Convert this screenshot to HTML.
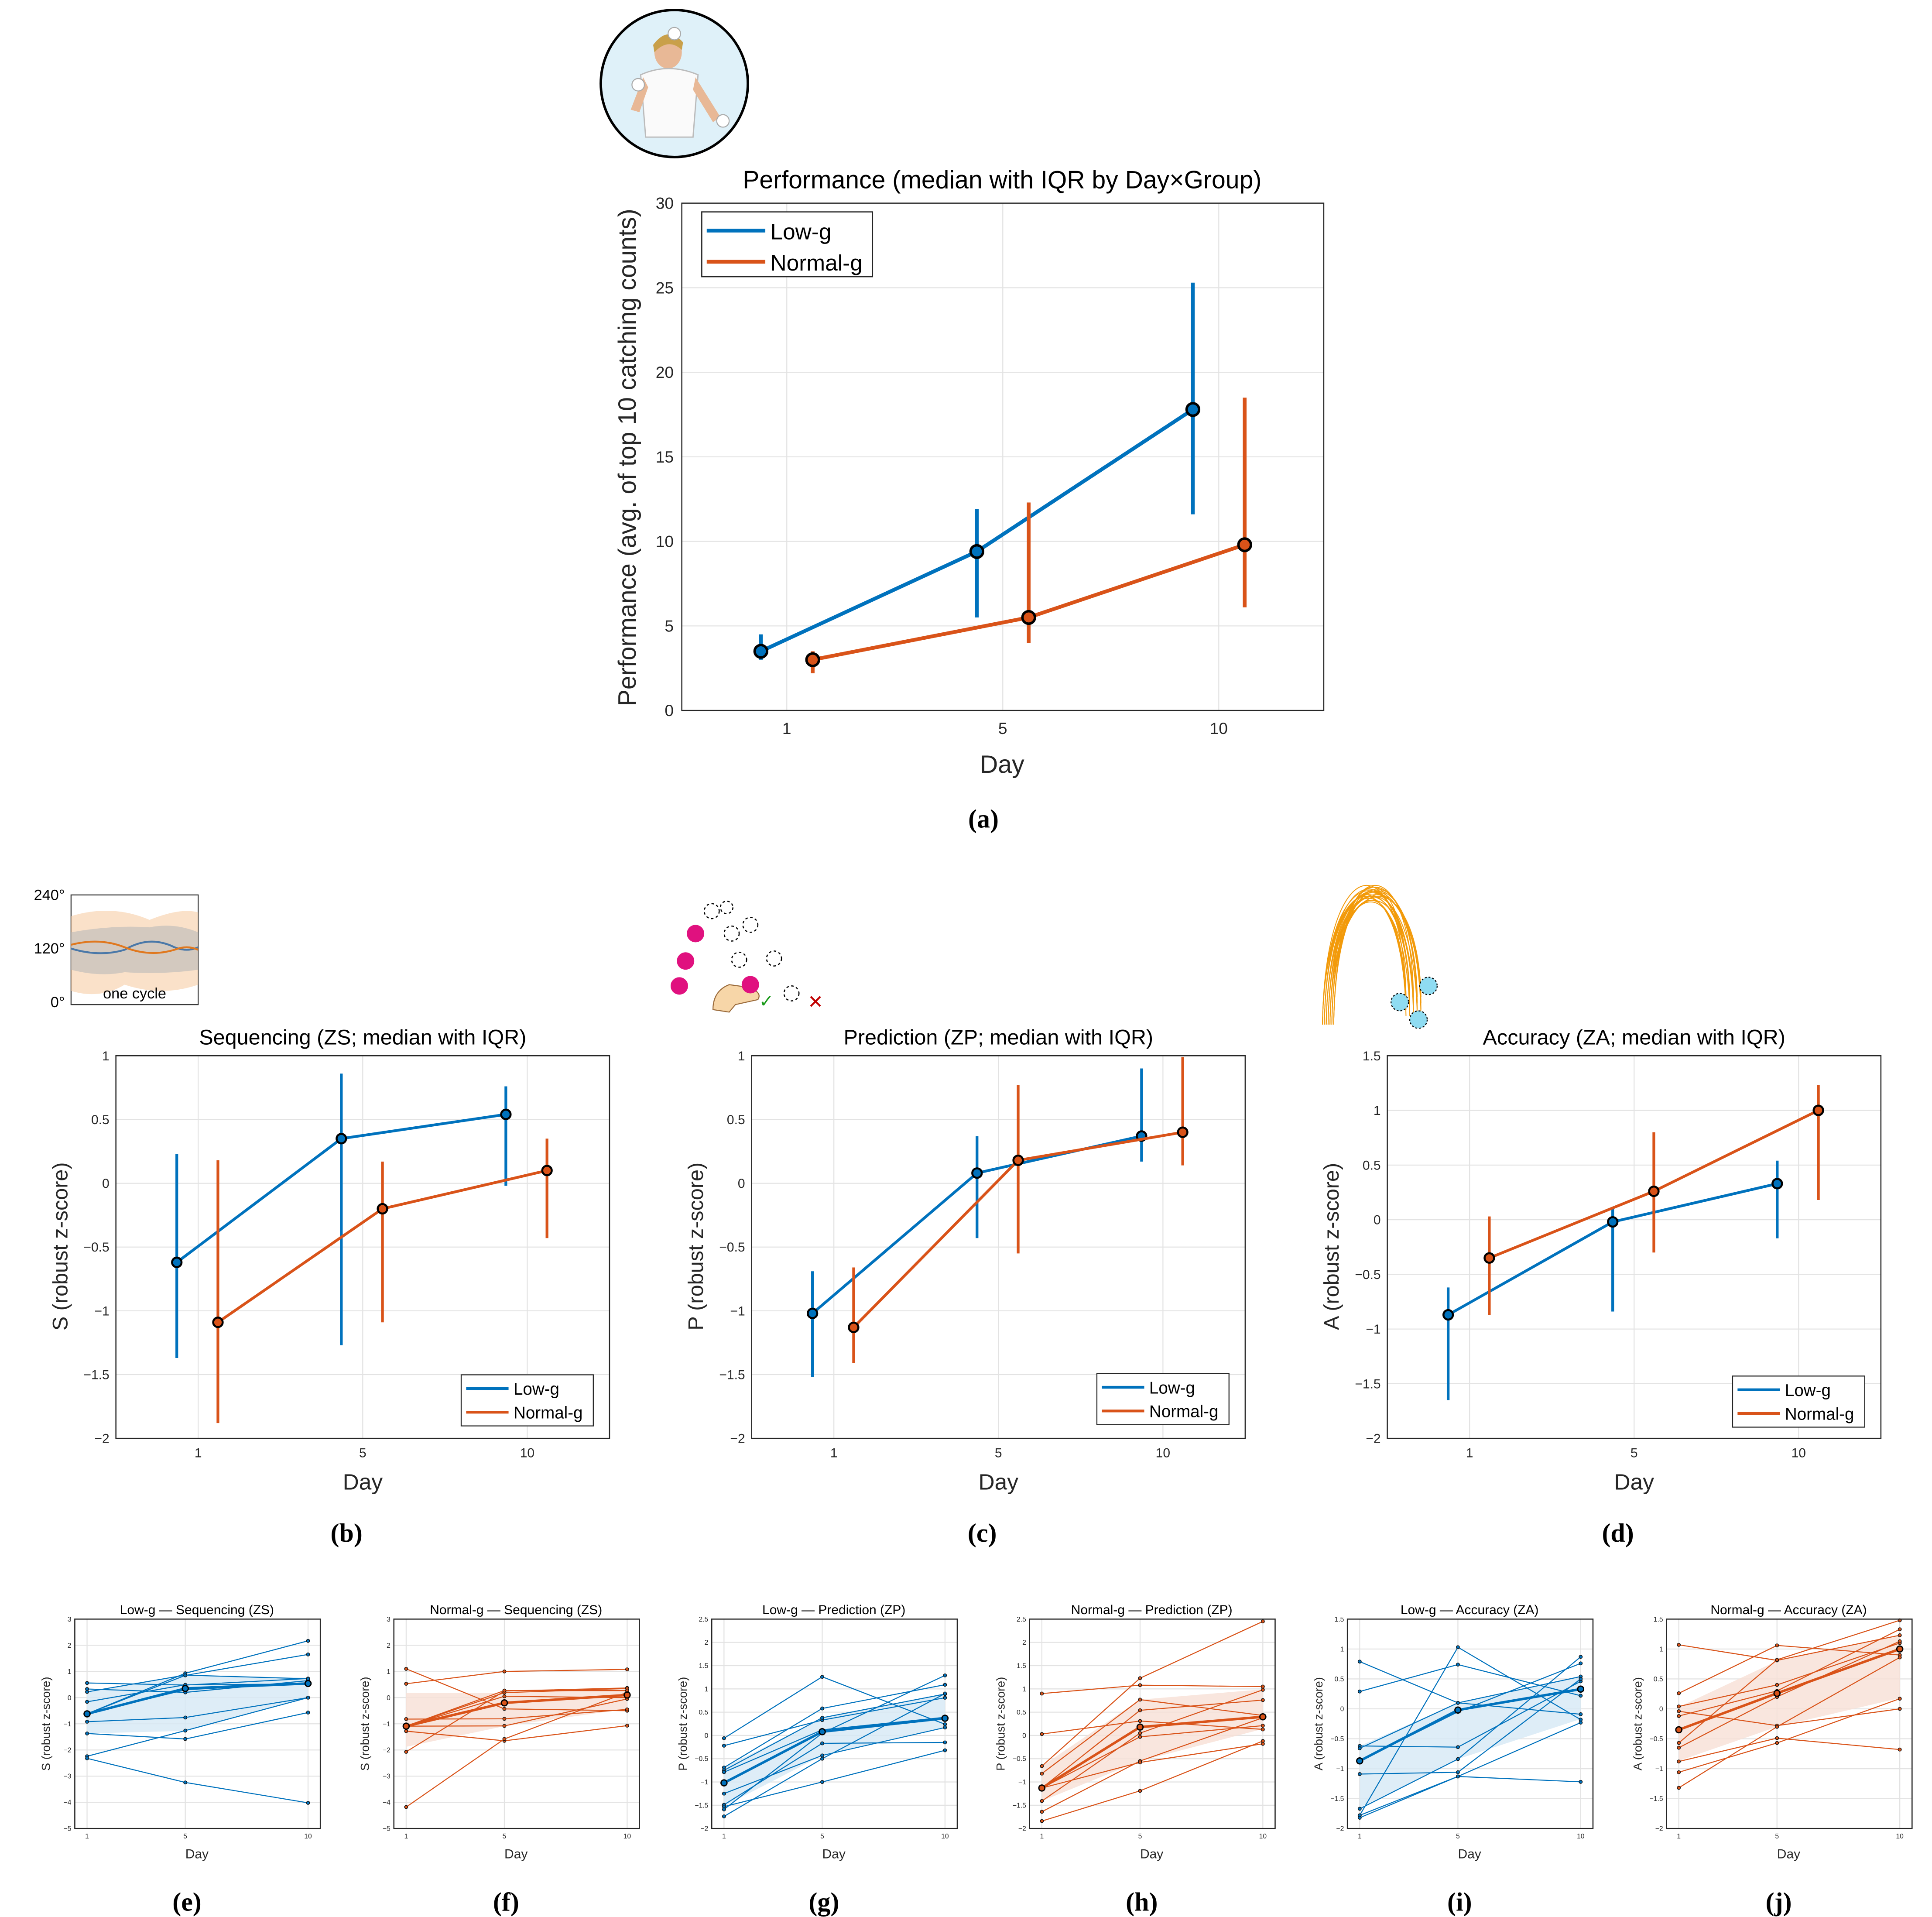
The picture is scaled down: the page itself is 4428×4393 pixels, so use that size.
<!DOCTYPE html>
<html><head><meta charset="utf-8">
<style>
html,body{margin:0;padding:0;background:#fff;}
svg{display:block;font-family:"Liberation Sans",sans-serif;}
</style></head>
<body>
<svg id="fig" xmlns="http://www.w3.org/2000/svg" width="4428" height="4393" viewBox="0 0 1550 1538" preserveAspectRatio="none">
<rect x="0" y="0" width="1550" height="1538" fill="#fff"/>
<!-- juggler icon -->
<g>
<circle cx="541" cy="67" r="59" fill="#dff1f9" stroke="#000" stroke-width="2"/>
<ellipse cx="536" cy="42" rx="11" ry="13" fill="#e8b896"/>
<path d="M524 36 Q536 20 548 34 L547 40 Q536 30 525 42Z" fill="#c9a04a"/>
<path d="M514 60 Q536 50 560 60 L556 110 L518 110Z" fill="#fafafa" stroke="#bbb" stroke-width="1"/>
<path d="M516 62 L506 88 L513 90 L520 70Z" fill="#e8b896"/>
<path d="M558 62 L578 94 L572 98 L556 72Z" fill="#e8b896"/>
<circle cx="541" cy="27" r="5" fill="#fff" stroke="#aaa" stroke-width="0.8"/>
<circle cx="512" cy="68" r="5" fill="#fff" stroke="#aaa" stroke-width="0.8"/>
<circle cx="580" cy="97" r="5" fill="#fff" stroke="#aaa" stroke-width="0.8"/>
</g>
<!-- sequencing inset icon -->
<g>
<rect x="57" y="718" width="102" height="88" fill="#fff" stroke="#333" stroke-width="0.8"/>
<path d="M57 735 Q90 725 120 738 Q145 728 159 732 L159 790 Q130 800 100 790 Q80 802 57 795Z" fill="#f6c99d" opacity="0.55"/>
<path d="M57 748 Q90 742 120 744 Q140 740 159 748 L159 778 Q130 782 100 780 Q80 784 57 778Z" fill="#b9b9b9" opacity="0.6"/>
<path d="M57 761 Q80 768 100 762 Q120 750 140 760 Q150 764 159 760" fill="none" stroke="#4a78a8" stroke-width="1.5"/>
<path d="M57 758 Q80 752 100 760 Q120 768 140 762 Q150 758 159 762" fill="none" stroke="#e0781e" stroke-width="1.5"/>
<text x="52" y="722" font-size="12" text-anchor="end">240°</text>
<text x="52" y="765" font-size="12" text-anchor="end">120°</text>
<text x="52" y="808" font-size="12" text-anchor="end">0°</text>
<text x="108" y="801" font-size="12" text-anchor="middle">one cycle</text>
</g>
<!-- prediction inset icon -->
<g>
<g fill="none" stroke="#000" stroke-dasharray="2,2" stroke-width="0.9">
<circle cx="571" cy="731" r="6"/><circle cx="583" cy="728" r="5"/><circle cx="602" cy="742" r="6"/>
<circle cx="587" cy="749" r="6"/><circle cx="593" cy="770" r="6"/><circle cx="621" cy="769" r="6"/><circle cx="635" cy="797" r="6"/>
</g>
<circle cx="558" cy="749" r="7" fill="#e0117f"/><circle cx="550" cy="771" r="7" fill="#e0117f"/><circle cx="545" cy="791" r="7" fill="#e0117f"/>
<path d="M572 810 Q572 795 585 790 L600 792 Q612 796 608 802 L590 806 L585 812Z" fill="#f7d6a8" stroke="#9a6a3a" stroke-width="0.8"/>
<circle cx="602" cy="790" r="7" fill="#e0117f"/>
<text x="609" y="808" font-size="14" fill="#1a9a1a">✓</text>
<text x="648" y="809" font-size="15" fill="#c00000">✕</text>
</g>
<!-- accuracy inset icon -->
<g id="accIcon"></g>
<g id="root"></g>
</svg>
<script>
// ---------- data ----------
const days = [1, 5, 10];
// (a) Performance
const perfLowMed = [3.5, 9.4, 17.8];
const perfLowQ1 = [3.0, 5.5, 11.6];
const perfLowQ3 = [4.5, 11.9, 25.3];
const perfNorMed = [3.0, 5.5, 9.8];
const perfNorQ1 = [2.2, 4.0, 6.1];
const perfNorQ3 = [3.5, 12.3, 18.5];
// (b) Sequencing
const seqLowMed = [-0.62, 0.35, 0.54];
const seqLowQ1 = [-1.37, -1.27, -0.02];
const seqLowQ3 = [0.23, 0.86, 0.76];
const seqNorMed = [-1.09, -0.20, 0.10];
const seqNorQ1 = [-1.88, -1.09, -0.43];
const seqNorQ3 = [0.18, 0.17, 0.35];
// (c) Prediction
const preLowMed = [-1.02, 0.08, 0.37];
const preLowQ1 = [-1.52, -0.43, 0.17];
const preLowQ3 = [-0.69, 0.37, 0.90];
const preNorMed = [-1.13, 0.18, 0.40];
const preNorQ1 = [-1.41, -0.55, 0.14];
const preNorQ3 = [-0.66, 0.77, 0.99];
// (d) Accuracy
const accLowMed = [-0.87, -0.02, 0.33];
const accLowQ1 = [-1.65, -0.84, -0.17];
const accLowQ3 = [-0.62, 0.10, 0.54];
const accNorMed = [-0.35, 0.26, 1.00];
const accNorQ1 = [-0.87, -0.30, 0.18];
const accNorQ3 = [0.03, 0.80, 1.23];
// (e)-(j) individual subjects
const eLines = [[0.56,0.48,0.73],[0.33,0.20,0.65],[0.22,0.86,0.72],[-0.16,0.49,0.52],[-0.62,0.93,2.17],[-0.62,0.85,1.65],[-0.92,-0.76,0.0],[-1.37,-1.58,-0.57],[-2.24,-1.26,0.0],[-2.32,-3.24,-4.02],[-0.62,0.30,0.55]];
const fLines = [[1.10,-0.43,-0.50],[0.53,1.00,1.08],[-0.82,-0.81,-0.45],[-1.28,-1.65,-1.07],[-2.07,0.25,0.37],[-4.18,-1.58,0.20],[-1.09,0.19,0.35],[-1.09,0.05,0.0],[-1.09,-1.08,-0.05],[-1.09,0.27,0.27]];
const gLines = [[-0.06,1.26,0.24],[-0.22,0.33,0.81],[-0.69,0.58,1.09],[-0.75,0.38,0.89],[-0.79,0.12,0.39],[-1.25,-0.43,0.17],[-1.49,-0.17,-0.15],[-1.53,-1.0,-0.32],[-1.59,0.05,1.29],[-1.74,-0.50,0.90],[-1.02,0.08,0.37]];
const hLines = [[0.90,1.08,1.05],[0.03,0.31,0.13],[-0.66,1.23,2.45],[-0.82,0.77,0.43],[-1.13,0.54,0.76],[-1.41,0.05,0.98],[-1.64,-0.55,0.38],[-1.84,-1.19,-0.12],[-1.13,-0.58,-0.18],[-1.13,-0.03,0.21]];
const iLines = [[0.79,0.10,-0.09],[0.29,0.74,0.22],[-0.62,-0.64,0.46],[-0.66,0.10,0.54],[-1.09,-1.06,0.50],[-1.67,-0.84,0.87],[-1.78,1.03,-0.18],[-1.78,-1.13,-0.23],[-1.82,-1.13,-1.22],[-0.87,-0.05,0.76]];
const jLines = [[1.07,0.81,1.23],[0.26,1.06,0.90],[0.04,0.40,1.10],[-0.04,-0.28,0.0],[-0.12,0.30,1.33],[-0.57,0.82,1.48],[-0.65,0.20,1.13],[-0.88,-0.49,-0.68],[-1.06,-0.57,0.17],[-1.32,-0.30,0.86]];

const BLUE = "#0072BD", ORANGE = "#D95319";
const NS = "http://www.w3.org/2000/svg";
const root = document.getElementById("root");
function mk(tag, attrs, parent) {
  const e = document.createElementNS(NS, tag);
  for (const k in attrs) e.setAttribute(k, attrs[k]);
  (parent || root).appendChild(e);
  return e;
}
function txt(s, attrs, parent) { const t = mk("text", attrs, parent); t.textContent = s; return t; }
function fmt(v) { return (v < 0 ? "\u2212" : "") + Math.abs(v); }

function axes(name, box, xlim, ylim, yticks, xtickPos, xtickLbl, fs) {
  const g = mk("g", {});
  
  
  const sx = v => box.x0 + (v - xlim[0]) / (xlim[1] - xlim[0]) * (box.x1 - box.x0);
  const sy = v => box.y1 - (v - ylim[0]) / (ylim[1] - ylim[0]) * (box.y1 - box.y0);
  mk("rect", {x: box.x0, y: box.y0, width: box.x1 - box.x0, height: box.y1 - box.y0, fill: "#fff"}, g);
  const grid = mk("g", {stroke: "#e3e3e3", "stroke-width": 0.8}, g);
  
  
  yticks.forEach(v => mk("line", {x1: box.x0, x2: box.x1, y1: sy(v), y2: sy(v)}, grid));
  xtickPos.forEach(v => mk("line", {x1: sx(v), x2: sx(v), y1: box.y0, y2: box.y1}, grid));
  const yt = mk("g", {"font-size": fs, fill: "#262626", "text-anchor": "end"}, g);
  
  
  yticks.forEach(v => txt(fmt(v), {x: box.x0 - fs * 0.5, y: sy(v) + fs * 0.35}, yt));
  const xt = mk("g", {"font-size": fs, fill: "#262626", "text-anchor": "middle"}, g);
  
  
  xtickPos.forEach((v, i) => txt(xtickLbl[i], {x: sx(v), y: box.y1 + fs * 1.45}, xt));
  return {g, sx, sy, box};
}
function frame(ax) {
  const b = ax.box;
  mk("rect", {x: b.x0, y: b.y0, width: b.x1 - b.x0, height: b.y1 - b.y0, fill: "none", stroke: "#262626", "stroke-width": 0.9}, ax.g);
}

// ---------- panel (a) ----------
(function () {
  const ax = axes("performance-chart", {x0: 547, x1: 1062, y0: 163, y1: 570}, [0.514, 3.486], [0, 30], [0,5,10,15,20,25,30], [1,2,3], days.map(String), 13);
  const series = [[perfLowMed, perfLowQ1, perfLowQ3, BLUE, -0.12, "low-g"], [perfNorMed, perfNorQ1, perfNorQ3, ORANGE, 0.12, "normal-g"]];
  series.forEach(s => {
    const sg = mk("g", {}, ax.g);
    
    
    s[0].forEach((m, i) => mk("line", {x1: ax.sx(i + 1 + s[4]), x2: ax.sx(i + 1 + s[4]), y1: ax.sy(s[1][i]), y2: ax.sy(s[2][i]), stroke: s[3], "stroke-width": 3}, sg));
    mk("polyline", {points: s[0].map((m, i) => ax.sx(i + 1 + s[4]) + "," + ax.sy(m)).join(" "), fill: "none", stroke: s[3], "stroke-width": 3}, sg);
    s[0].forEach((m, i) => mk("circle", {cx: ax.sx(i + 1 + s[4]), cy: ax.sy(m), r: 5, fill: s[3], stroke: "#000", "stroke-width": 2}, sg));
  });
  frame(ax);
  txt("Performance (median with IQR by Day\u00d7Group)", {x: 804, y: 151, "font-size": 20, "text-anchor": "middle"}, ax.g);
  txt("Performance (avg. of top 10 catching counts)", {x: 0, y: 0, "font-size": 20, "text-anchor": "middle", fill: "#262626", transform: "translate(510,367) rotate(-90)"}, ax.g);
  txt("Day", {x: 804, y: 620, "font-size": 20, "text-anchor": "middle", fill: "#262626"}, ax.g);
  const lg = mk("g", {}, ax.g);
  
  
  mk("rect", {x: 563, y: 170, width: 137, height: 52, fill: "#fff", stroke: "#262626", "stroke-width": 0.9}, lg);
  mk("line", {x1: 567, x2: 614, y1: 185, y2: 185, stroke: BLUE, "stroke-width": 3}, lg);
  mk("line", {x1: 567, x2: 614, y1: 210, y2: 210, stroke: ORANGE, "stroke-width": 3}, lg);
  txt("Low-g", {x: 618, y: 192, "font-size": 18}, lg);
  txt("Normal-g", {x: 618, y: 217, "font-size": 18}, lg);
  txt("(a)", {x: 789, y: 664, "font-size": 21, "text-anchor": "middle", "font-family": "Liberation Serif, serif", "font-weight": "bold"}, ax.g);
})();

// ---------- panels (b)(c)(d) ----------
function midPanel(name, x0, ylim, yticks, title, ylab, low, nor, label, legY) {
  const ax = axes(name, {x0: x0, x1: x0 + 396, y0: 847, y1: 1154}, [0.5, 3.5], ylim, yticks, [1,2,3], days.map(String), 10.5);
  const series = [[low, BLUE, -0.13, "low-g"], [nor, ORANGE, 0.12, "normal-g"]];
  series.forEach(s => {
    const sg = mk("g", {}, ax.g);
    
    
    const [med, q1, q3] = s[0];
    med.forEach((m, i) => mk("line", {x1: ax.sx(i + 1 + s[2]), x2: ax.sx(i + 1 + s[2]), y1: ax.sy(q1[i]), y2: ax.sy(q3[i]), stroke: s[1], "stroke-width": 2.2}, sg));
    mk("polyline", {points: med.map((m, i) => ax.sx(i + 1 + s[2]) + "," + ax.sy(m)).join(" "), fill: "none", stroke: s[1], "stroke-width": 2.2}, sg);
    med.forEach((m, i) => mk("circle", {cx: ax.sx(i + 1 + s[2]), cy: ax.sy(m), r: 3.8, fill: s[1], stroke: "#000", "stroke-width": 1.6}, sg));
  });
  frame(ax);
  const cx = x0 + 198;
  txt(title, {x: cx, y: 838, "font-size": 17, "text-anchor": "middle"}, ax.g);
  txt(ylab, {x: 0, y: 0, "font-size": 17, "text-anchor": "middle", fill: "#262626", transform: "translate(" + (x0 - 39) + ",1000) rotate(-90)"}, ax.g);
  txt("Day", {x: cx, y: 1195, "font-size": 18, "text-anchor": "middle", fill: "#262626"}, ax.g);
  const lg = mk("g", {}, ax.g);
  
  
  const lx = x0 + 277;
  mk("rect", {x: lx, y: legY, width: 106, height: 41, fill: "#fff", stroke: "#262626", "stroke-width": 0.8}, lg);
  mk("line", {x1: lx + 4, x2: lx + 38, y1: legY + 11, y2: legY + 11, stroke: BLUE, "stroke-width": 2.2}, lg);
  mk("line", {x1: lx + 4, x2: lx + 38, y1: legY + 30, y2: legY + 30, stroke: ORANGE, "stroke-width": 2.2}, lg);
  txt("Low-g", {x: lx + 42, y: legY + 16, "font-size": 13.5}, lg);
  txt("Normal-g", {x: lx + 42, y: legY + 35, "font-size": 13.5}, lg);
  txt(label, {x: cx - 13, y: 1237, "font-size": 21, "text-anchor": "middle", "font-family": "Liberation Serif, serif", "font-weight": "bold"}, ax.g);
}
midPanel("sequencing-chart", 93, [-2, 1], [-2,-1.5,-1,-0.5,0,0.5,1], "Sequencing (ZS; median with IQR)", "S (robust z-score)", [seqLowMed, seqLowQ1, seqLowQ3], [seqNorMed, seqNorQ1, seqNorQ3], "(b)", 1103);
midPanel("prediction-chart", 603, [-2, 1], [-2,-1.5,-1,-0.5,0,0.5,1], "Prediction (ZP; median with IQR)", "P (robust z-score)", [preLowMed, preLowQ1, preLowQ3], [preNorMed, preNorQ1, preNorQ3], "(c)", 1102);
midPanel("accuracy-chart", 1113, [-2, 1.5], [-2,-1.5,-1,-0.5,0,0.5,1,1.5], "Accuracy (ZA; median with IQR)", "A (robust z-score)", [accLowMed, accLowQ1, accLowQ3], [accNorMed, accNorQ1, accNorQ3], "(d)", 1104);

// ---------- small panels (e)-(j) ----------
function smallPanel(name, x0, ylim, yticks, title, ylab, lines, med, q1, q3, color, band, label) {
  const ax = axes(name, {x0: x0, x1: x0 + 197, y0: 1299, y1: 1467}, [0.5, 10.5], ylim, yticks, days, days.map(String), 5.5);
  mk("polygon", {points: days.map((d, i) => ax.sx(d) + "," + ax.sy(q3[i])).concat(days.slice().reverse().map((d, k) => ax.sx(d) + "," + ax.sy(q1[2 - k]))).join(" "), fill: band, opacity: 0.8}, ax.g);
  const sg = mk("g", {}, ax.g);
  
  
  lines.forEach(L => {
    mk("polyline", {points: L.map((v, i) => ax.sx(days[i]) + "," + ax.sy(v)).join(" "), fill: "none", stroke: color, "stroke-width": 0.8}, sg);
    L.forEach((v, i) => mk("circle", {cx: ax.sx(days[i]), cy: ax.sy(v), r: 1.3, fill: color, stroke: "#111", "stroke-width": 0.5}, sg));
  });
  const mg = mk("g", {}, ax.g);
  
  
  mk("polyline", {points: med.map((v, i) => ax.sx(days[i]) + "," + ax.sy(v)).join(" "), fill: "none", stroke: color, "stroke-width": 2}, mg);
  med.forEach((v, i) => mk("circle", {cx: ax.sx(days[i]), cy: ax.sy(v), r: 2.4, fill: color, stroke: "#000", "stroke-width": 1}, mg));
  frame(ax);
  const cx = x0 + 98;
  txt(title, {x: cx, y: 1295, "font-size": 10.5, "text-anchor": "middle"}, ax.g);
  txt(ylab, {x: 0, y: 0, "font-size": 9.5, "text-anchor": "middle", fill: "#262626", transform: "translate(" + (x0 - 20) + ",1383) rotate(-90)"}, ax.g);
  txt("Day", {x: cx, y: 1491, "font-size": 10.5, "text-anchor": "middle", fill: "#262626"}, ax.g);
  txt(label, {x: cx - 8, y: 1533, "font-size": 21, "text-anchor": "middle", "font-family": "Liberation Serif, serif", "font-weight": "bold"}, ax.g);
}
const BL = "#d6e8f5", OR = "#f8e0d6";
const zsT = [-5,-4,-3,-2,-1,0,1,2,3], zpT = [-2,-1.5,-1,-0.5,0,0.5,1,1.5,2,2.5], zaT = [-2,-1.5,-1,-0.5,0,0.5,1,1.5];
smallPanel("lowg-sequencing-chart", 60, [-5, 3], zsT, "Low-g \u2014 Sequencing (ZS)", "S (robust z-score)", eLines, seqLowMed, seqLowQ1, seqLowQ3, BLUE, BL, "(e)");
smallPanel("normalg-sequencing-chart", 316, [-5, 3], zsT, "Normal-g \u2014 Sequencing (ZS)", "S (robust z-score)", fLines, seqNorMed, seqNorQ1, seqNorQ3, ORANGE, OR, "(f)");
smallPanel("lowg-prediction-chart", 571, [-2, 2.5], zpT, "Low-g \u2014 Prediction (ZP)", "P (robust z-score)", gLines, preLowMed, preLowQ1, preLowQ3, BLUE, BL, "(g)");
smallPanel("normalg-prediction-chart", 826, [-2, 2.5], zpT, "Normal-g \u2014 Prediction (ZP)", "P (robust z-score)", hLines, preNorMed, preNorQ1, preNorQ3, ORANGE, OR, "(h)");
smallPanel("lowg-accuracy-chart", 1081, [-2, 1.5], zaT, "Low-g \u2014 Accuracy (ZA)", "A (robust z-score)", iLines, accLowMed, accLowQ1, accLowQ3, BLUE, BL, "(i)");
smallPanel("normalg-accuracy-chart", 1337, [-2, 1.5], zaT, "Normal-g \u2014 Accuracy (ZA)", "A (robust z-score)", jLines, accNorMed, accNorQ1, accNorQ3, ORANGE, OR, "(j)");

// accuracy icon arcs (decorative)
(function () {
  const g = document.getElementById("accIcon");
  for (let k = 0; k < 22; k++) {
    const l = 1061 + (k % 7) * 1.5, r = 1128 + (k % 5) * 3, t = 717 + (k % 6) * 3;
    mk("path", {d: "M" + l + " 822 C" + (l + 2) + " " + (t - 40) + " " + (r - 2) + " " + (t - 40) + " " + r + " " + (800 + (k % 4) * 5), fill: "none", stroke: "#f29a0a", "stroke-width": 0.7}, g);
  }
  [[1146, 791], [1123, 804], [1138, 818]].forEach(p => mk("circle", {cx: p[0], cy: p[1], r: 7, fill: "#8fdcf2", stroke: "#000", "stroke-width": 0.8, "stroke-dasharray": "1.5,1.5"}, g));
})();
</script>
</body></html>
